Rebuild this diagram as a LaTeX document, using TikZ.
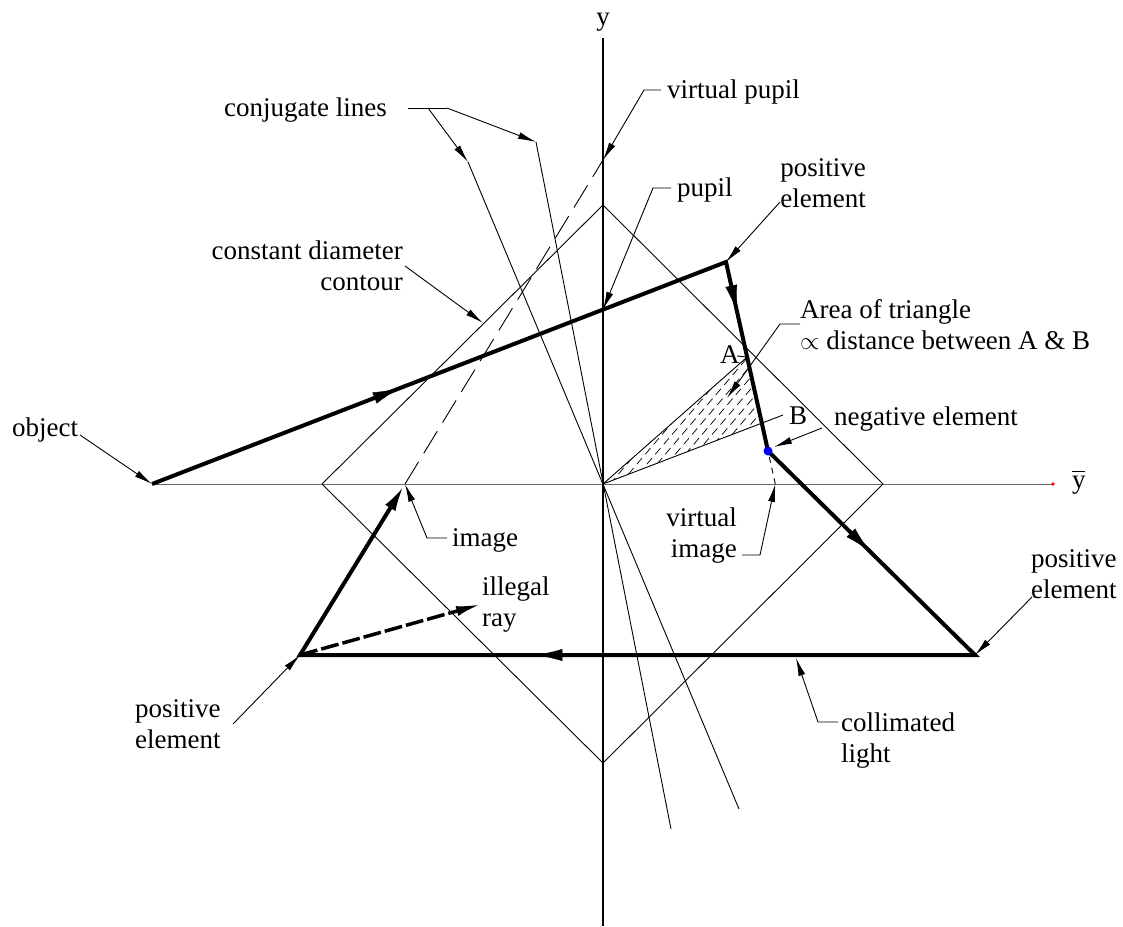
\documentclass[tikz,border=0pt]{standalone}
\usepackage{fontspec}
\setmainfont{Liberation Serif}
\usetikzlibrary{arrows.meta,decorations.markings,calc}
\begin{document}
\begin{tikzpicture}[x=1pt,y=-1pt,
  lbl/.style={font=\fontsize{27}{31}\selectfont, inner sep=0pt},
  hair/.style={line width=0.9pt},
  leader/.style={line width=0.9pt,-{Latex[length=18pt,width=7pt]}},
  beam/.style={line width=4pt},
  beamtip/.style={-{Latex[length=26pt,width=12pt]}},
  midarrow/.style={postaction={decorate},decoration={markings,mark=at position #1 with {\arrow{Latex[length=26pt,width=12pt]}}}},
]
\useasboundingbox (0,0) rectangle (1123,926);
% key points
\coordinate (O) at (603,484);
\coordinate (ytop) at (603,38);
\coordinate (ybot) at (603,926);
\coordinate (obj) at (152,484);
\coordinate (ybarend) at (1053,484);
\coordinate (Dt) at (603,205);
\coordinate (Dr) at (883,484);
\coordinate (Db) at (603,763);
\coordinate (Dl) at (322,484);
\coordinate (P1) at (726,262);
\coordinate (N) at (768,451);
\coordinate (P2) at (975,655);
\coordinate (P3) at (300,655);
\coordinate (I) at (405,484);
\coordinate (VI) at (775.3,484);
\coordinate (VP) at (603,160);
\coordinate (PU) at (603,309.6);
\coordinate (IR) at (482,604);
\coordinate (A) at ($(P1)!0.503!(N)$);
\coordinate (B) at ($(P1)!0.852!(N)$);
\coordinate (Bend) at (783,415);
\coordinate (C1a) at (468,162);
\coordinate (C1b) at (739,809);
\coordinate (C2a) at (536,142);
\coordinate (C2b) at (671,829);

% axes
\draw[line width=2pt] (ytop) -- (ybot);
\draw[line width=1pt, black!60] (obj) -- (ybarend);
\fill[red] (ybarend) circle (1.8);

% diamond
\draw[hair] (Dt) -- (Dr) -- (Db) -- (Dl) -- cycle;

% conjugate lines
\draw[hair] (C1a) -- (C1b);
\draw[hair] (C2a) -- (C2b);

% virtual pupil dashed construction
\draw[hair, dash pattern=on 26pt off 10pt] (I) -- (VP);

% hatched triangle
\begin{scope}
\clip (O) -- (A) -- (B) -- cycle;
\foreach \k in {0,...,24} \draw[line width=0.7pt, dash pattern=on 8pt off 5pt] (560+\k*10,484) -- ++(170,-200);
\end{scope}
\draw[hair] (O) -- (A);
\draw[hair] (O) -- (Bend);

% dashed extension to virtual image
\draw[hair, dash pattern=on 6pt off 5pt, shorten <=6pt] (N) -- (VI);

% beams
\draw[beam, line join=miter, beamtip, shorten >=2pt] (obj) -- (P1) -- (N) -- (P2) -- (P3) -- (I);
\path[midarrow=0.43] (obj) -- (P1);
\path[midarrow=0.26] (P1) -- (N);
\path[midarrow=0.49] (N) -- (P2);
\path[midarrow=0.65] (P2) -- (P3);
\draw[line width=3.5pt, dash pattern=on 18pt off 4pt, -{Latex[length=26pt,width=10pt]}] (P3) -- (IR);
\fill[blue] (N) circle (4.5);

% labels
\node[lbl, anchor=base] (ylab) at (603,25) {y};
\node[lbl, anchor=base west] (ybarlab) at (1072,488) {\rlap{\raisebox{16pt}{\rule{13pt}{1.3pt}}}y};
\node[lbl, anchor=base east] (conj) at (387,116) {conjugate lines};
\node[lbl, anchor=base west] (vpup) at (667,98) {virtual pupil};
\node[lbl, anchor=base west] (pup) at (677,196) {pupil};
\node[lbl, anchor=base west] (objlab) at (12,436) {object};
\node[lbl, anchor=base west] (Alab) at (720,363) {A};
\node[lbl, anchor=base west] (Blab) at (789,424) {B};
\node[lbl, anchor=base west] (neg) at (834,425) {negative element};
\node[lbl, anchor=base west] (imlab) at (452,546) {image};
\node[lbl, align=center, anchor=base] (posT) at (823,207) {positive\\element};
\node[lbl, align=right, anchor=base east] (cdc) at (403,290) {constant diameter\\contour};
\node[lbl, align=left, anchor=base west] (area) at (800,349) {Area of triangle\\$\propto$ distance between A \& B};
\node[lbl, align=right, anchor=base east] (vim) at (737,557) {virtual\\image};
\node[lbl, align=left, anchor=base west] (ill) at (482,626) {illegal\\ray};
\node[lbl, align=left, anchor=base west] (posR) at (1031,598) {positive\\element};
\node[lbl, align=left, anchor=base west] (coll) at (841,762) {collimated\\light};
\node[lbl, align=left, anchor=base west] (posL) at (135,748) {positive\\element};

% leader bends
\coordinate (cjL) at (408,108);
\coordinate (cj1) at (428,108);
\coordinate (cj2) at (447,108);
\coordinate (vpS) at (661,90);
\coordinate (vpB) at (644,90);
\coordinate (puS) at (671,188);
\coordinate (puB) at (653,188);
\coordinate (ptS) at (780,202);
\coordinate (cdS) at (405,266);
\coordinate (cdT) at (483,323);
\coordinate (obS) at (80,435);
\coordinate (arS) at (800,324);
\coordinate (arB) at (780,324);
\coordinate (arT) at (727,398);
\coordinate (AtS) at (737,356);
\coordinate (ngS) at (822,428);
\coordinate (ngT) at (774,447);
\coordinate (viS) at (742,555);
\coordinate (viB) at (760,555);
\coordinate (imS) at (447,538);
\coordinate (imB) at (427,538);
\coordinate (prS) at (1032,597);
\coordinate (coS) at (838,722);
\coordinate (coB) at (818,722);
\coordinate (coT) at (796,658);
\coordinate (plS) at (233,724);

% leaders
\draw[hair] (cjL) -- (cj2);
\draw[leader] (cj1) -- (C1a);
\draw[leader] (cj2) -- (C2a);
\draw[leader] (vpS) -- (vpB) -- (VP);
\draw[leader] (puS) -- (puB) -- (PU);
\draw[leader] (ptS) -- (P1);
\draw[leader] (cdS) -- (cdT);
\draw[leader] (obS) -- (obj);
\draw[leader] (arS) -- (arB) -- (arT);
\draw[hair] (AtS) -- (A);
\draw[leader] (ngS) -- (ngT);
\draw[leader] (viS) -- (viB) -- (VI);
\draw[leader] (imS) -- (imB) -- (I);
\draw[leader] (prS) -- (P2);
\draw[leader] (coS) -- (coB) -- (coT);
\draw[leader] (plS) -- (P3);
\end{tikzpicture}
\end{document}
